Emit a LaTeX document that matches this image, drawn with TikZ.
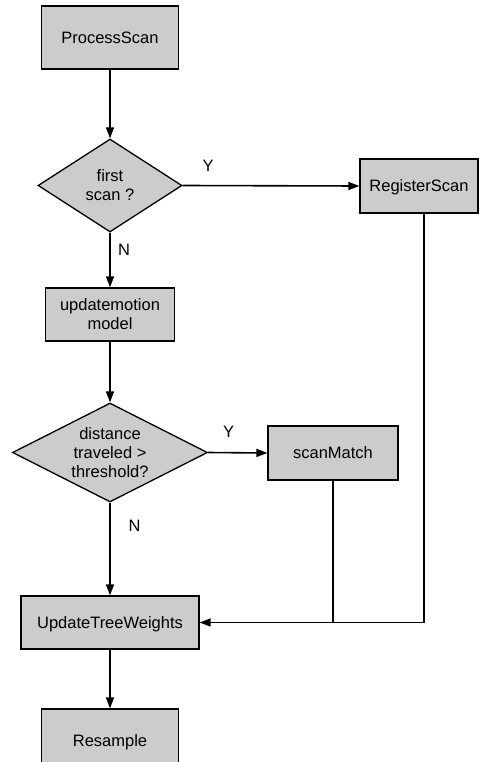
\documentclass[tikz,border=0pt]{standalone}
\usepackage{fontspec}
\setmainfont{Liberation Sans}
\usetikzlibrary{shapes.geometric,arrows.meta}
\definecolor{boxgray}{RGB}{204,204,204}
\begin{document}
\begin{tikzpicture}[x=1pt,y=-1pt,
  font=\fontsize{16.5}{19}\selectfont,
  box/.style={draw=black, line width=1.3pt, fill=boxgray, inner sep=0pt,
    text height=11.8pt, text depth=0pt, align=center},
  dia/.style={diamond, draw=black, line width=1.3pt, fill=boxgray, inner sep=0pt,
    text depth=0pt, align=center},
  two lines/.style={text height=30.8pt},
  three lines/.style={text height=49.8pt},
  lbl/.style={inner sep=0pt, text height=11.8pt, text depth=0pt},
  ln/.style={draw=black, line width=1.6pt},
  arr/.style={ln, -{Triangle[length=11pt,width=8pt]}}]
  \clip (0,0) rectangle (480,762);

  % process steps and decisions
  \node[box, minimum width=137pt, minimum height=63pt] (ps) at (110,37.5) {ProcessScan};
  \node[dia, two lines, aspect=1.55, minimum width=144pt, minimum height=93pt] (d1) at (110,185.5) {first\\scan ?};
  \node[box, minimum width=118pt, minimum height=54pt] (reg) at (419,186) {RegisterScan};
  \node[box, two lines, minimum width=129pt, minimum height=53pt] (upd) at (110,314.5) {updatemotion\\model};
  \node[dia, three lines, aspect=1.97, minimum width=195pt, minimum height=99pt] (d2) at (110,452.5) {distance\\traveled >\\threshold?};
  \node[box, minimum width=130pt, minimum height=54pt] (sm) at (333,453) {scanMatch};
  \node[box, minimum width=178pt, minimum height=53pt] (utw) at (110,622.5) {UpdateTreeWeights};
  \node[box, minimum width=137pt, minimum height=63pt] (rs) at (110,740.5) {Resample};

  % branch labels
  \node[lbl] (y1) at (208,165.5) {Y};
  \node[lbl] (n1) at (124,249.5) {N};
  \node[lbl] (y2) at (228.5,432) {Y};
  \node[lbl] (n2) at (134.5,525.5) {N};

  % connectors
  \draw[arr] (ps.south) -- (d1.north);
  \draw[arr] (d1.east) -- (reg.west);
  \draw[arr] (d1.south) -- (upd.north);
  \draw[arr] (upd.south) -- (d2.north);
  \draw[arr] (d2.east) -- (sm.west);
  \draw[arr] (d2.south) -- (utw.north);
  \draw[arr] (utw.south) -- (rs.north);
  \draw[arr] ([xshift=5pt]reg.south) |- (utw.east);
  \draw[ln] (sm.south) -- (sm.south |- utw.east);
\end{tikzpicture}
\end{document}
